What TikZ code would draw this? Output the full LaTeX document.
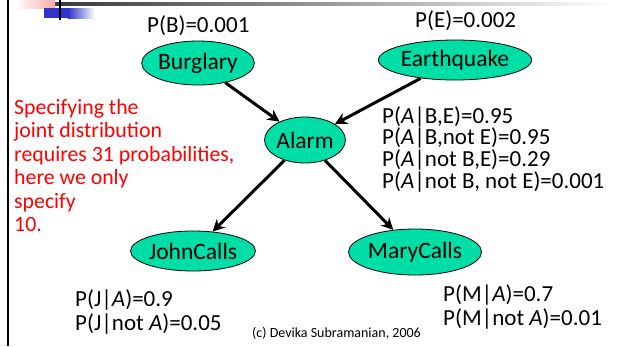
\documentclass[tikz,border=0pt]{standalone}
\usepackage{fontspec}
\setmainfont{Carlito}
\usetikzlibrary{shapes.geometric,arrows.meta}
\definecolor{nodefill}{RGB}{0,222,168}
\definecolor{decoblue}{RGB}{51,51,204}
\definecolor{decopink}{RGB}{250,170,170}
\begin{document}
\begin{tikzpicture}[x=1pt,y=-1pt,
  bnode/.style={ellipse,draw=black,line width=0.8pt,fill=nodefill,inner sep=0pt,font=\fontsize{23.5}{26}\selectfont},
  arr/.style={line width=3pt,-{Stealth[length=12pt,width=12pt]}},
  txt/.style={anchor=base west,inner sep=0pt,font=\fontsize{23}{26}\selectfont},
  redtxt/.style={anchor=base west,inner sep=0pt,font=\fontsize{21.8}{24}\selectfont,text=red},
  small/.style={anchor=base west,inner sep=0pt,font=\fontsize{14}{16}\selectfont},
]
\useasboundingbox (0,0) rectangle (619,346);
% decoration
\shade[left color=black!80,right color=white] (37,2) rectangle (612,5);
\shade[left color=white,right color=decopink] (15,0) rectangle (55,8);
\fill[decoblue] (44,8) rectangle (68,18);
\shade[left color=decoblue,right color=white] (68,8) rectangle (95,18);
\draw[line width=2pt] (60,0) -- (60,20);
\draw[line width=2pt] (8,0) -- (8,346);
% nodes
\node[bnode,minimum width=102pt,minimum height=44pt] (bur) at (198,63) {Burglary};
\node[bnode,minimum width=116pt,minimum height=40pt] (eq) at (455,60) {Earthquake};
\node[bnode,minimum width=68pt,minimum height=46pt] (al) at (305,140) {Alarm};
\node[bnode,minimum width=102pt,minimum height=40pt] (jc) at (193,251) {JohnCalls};
\node[bnode,minimum width=106pt,minimum height=46pt] (mc) at (415,252) {MaryCalls};
% arrows
\draw[arr] (bur) -- (al);
\draw[arr] (eq) -- (al);
\draw[arr] (al) -- (jc);
\draw[arr] (al) -- (mc);
% probabilities
\node[txt] (pb) at (147,32) {P(B)=0.001};
\node[txt] (pe) at (415,27) {P(E)=0.002};
\node[txt] (a1) at (382,123) {P(\textit{A}|B,E)=0.95};
\node[txt] (a2) at (382,144.5) {P(\textit{A}|B,not E)=0.95};
\node[txt] (a3) at (382,166) {P(\textit{A}|not B,E)=0.29};
\node[txt] (a4) at (382,188) {P(\textit{A}|not B, not E)=0.001};
\node[txt] (j1) at (75,306) {P(J|\textit{A})=0.9};
\node[txt] (j2) at (75,330) {P(J|not \textit{A})=0.05};
\node[txt] (m1) at (443,301) {P(M|\textit{A})=0.7};
\node[txt] (m2) at (443,325) {P(M|not \textit{A})=0.01};
% red note
\node[redtxt] (r1) at (14,114) {Specifying the};
\node[redtxt] (r2) at (14,137.5) {joint distribution};
\node[redtxt] (r3) at (14,161) {requires 31 probabilities,};
\node[redtxt] (r4) at (14,184.5) {here we only};
\node[redtxt] (r5) at (14,208) {specify};
\node[redtxt] (r6) at (14,231.5) {10.};
% credit
\node[small] (cr) at (252,337) {(c) Devika Subramanian, 2006};
\end{tikzpicture}
\end{document}
